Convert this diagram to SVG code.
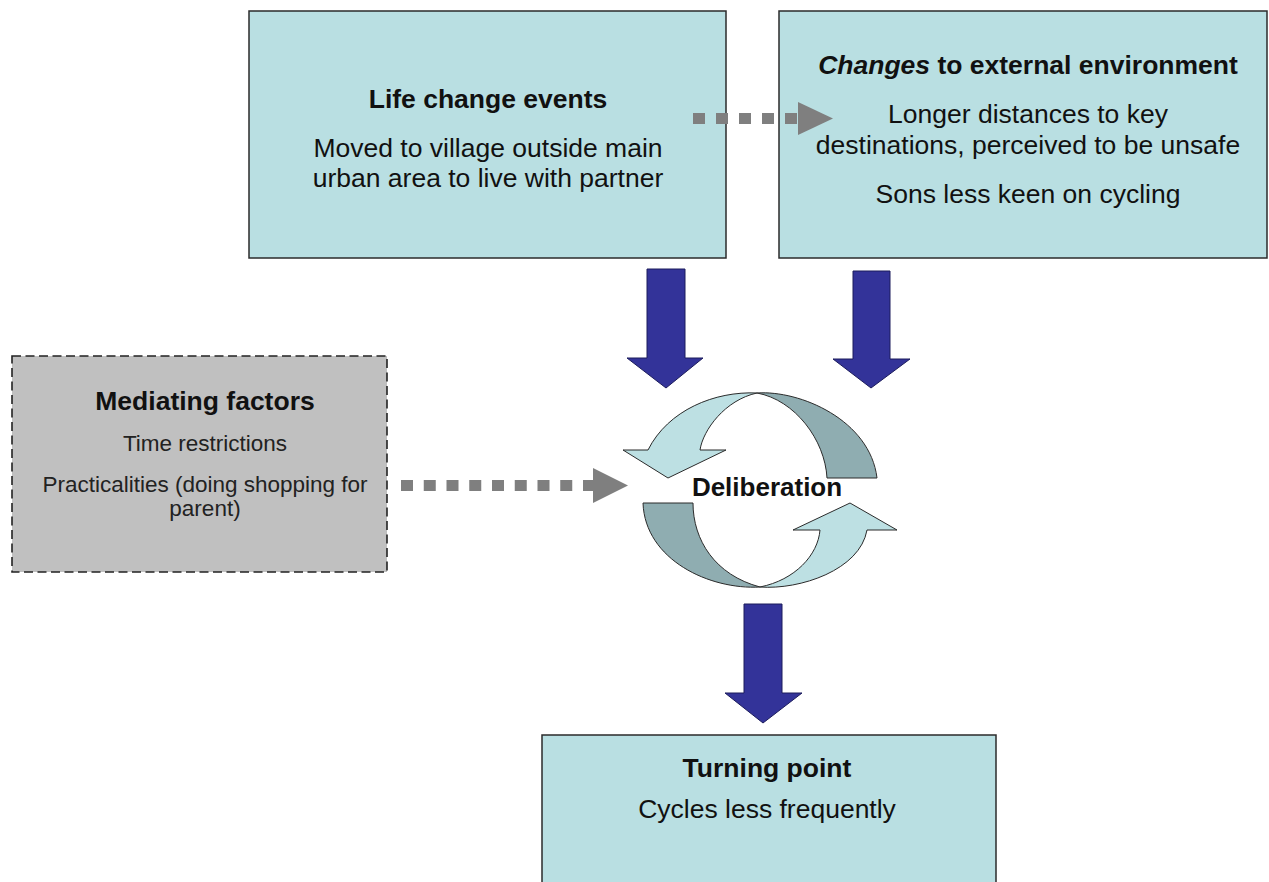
<svg xmlns="http://www.w3.org/2000/svg" width="1269" height="882" viewBox="0 0 1269 882">
<style>
.box{fill:#b9dfe2;stroke:#2b2b2b;stroke-width:1.5}
.med{fill:#c0c0c0;stroke:#222;stroke-width:1.6;stroke-dasharray:9 4.5}
.t{font-family:"Liberation Sans",Arial,sans-serif;fill:#111;text-anchor:middle}
.b{font-weight:bold;font-size:26.5px}
.r{font-size:26.5px}
.s{font-size:22.5px;fill:#222}
.blue{fill:#333399;stroke:#1c1c5c;stroke-width:1}
.dots{stroke:#7f7f7f;stroke-width:11;fill:none}
.head{fill:#7f7f7f}
.lt{fill:#bde0e3;stroke:#2b2b2b;stroke-width:1}
.dk{fill:#8fadb1;stroke:#2b2b2b;stroke-width:1}
</style>
<rect width="1269" height="882" fill="#fff"/>
<g id="life-change">
<rect class="box" x="249" y="11" width="477" height="247"/>
<text class="t b" x="488" y="108">Life change events</text>
<text class="t r" x="488" y="157">Moved to village outside main</text>
<text class="t r" x="488" y="187">urban area to live with partner</text>
</g>
<g id="external-env">
<rect class="box" x="779" y="11" width="488" height="247"/>
<text class="t b" x="1028" y="74"><tspan font-style="italic">Changes</tspan> to external environment</text>
<text class="t r" x="1028" y="123">Longer distances to key</text>
<text class="t r" x="1028" y="154">destinations, perceived to be unsafe</text>
<text class="t r" x="1028" y="203">Sons less keen on cycling</text>
</g>
<g id="mediating">
<rect class="med" x="12" y="356" width="375" height="216"/>
<text class="t b" x="205" y="410">Mediating factors</text>
<text class="t s" x="205" y="451">Time restrictions</text>
<text class="t s" x="205" y="492">Practicalities (doing shopping for</text>
<text class="t s" x="205" y="516">parent)</text>
</g>
<g id="turning-point">
<rect class="box" x="542" y="735" width="454" height="170"/>
<text class="t b" x="767" y="777">Turning point</text>
<text class="t r" x="767" y="818">Cycles less frequently</text>
</g>
<g id="deliberation">
<path class="lt" d="M757,393 C715,391 668,410 648,450 L623,450 L668,478 L726,450 L700,450 C703,430 725,400 757,393 Z"/>
<path class="dk" d="M757,393 C800,390 870,420 877,478 L827,478 C825,440 795,400 757,393 Z"/>
<path class="dk" d="M643,503 L693,503 C693,540 715,575 760,587 C710,590 645,560 643,503 Z"/>
<path class="lt" d="M760,587 C800,590 860,570 867,530 L897,530 L850,503 L793,530 L820,530 C818,555 795,580 760,587 Z"/>
<text class="t" x="767" y="496" font-size="26" font-weight="bold">Deliberation</text>
</g>
<g id="connectors">
<polygon class="blue" points="647,269 685,269 685,358 703,358 666,388 627,358 647,358"/>
<polygon class="blue" points="853,271 890,271 890,359 910,359 871,388 833,359 853,359"/>
<polygon class="blue" points="744,604 782,604 782,693 802,693 763,723 725,693 744,693"/>
<line class="dots" x1="693" y1="118.5" x2="798" y2="118.5" stroke-dasharray="12 11"/>
<polygon class="head" points="798,102 833,118.5 798,135"/>
<line class="dots" x1="401" y1="485.5" x2="594" y2="485.5" stroke-dasharray="12 10.75"/>
<polygon class="head" points="593,468 628,485.5 593,503"/>
</g>
</svg>
